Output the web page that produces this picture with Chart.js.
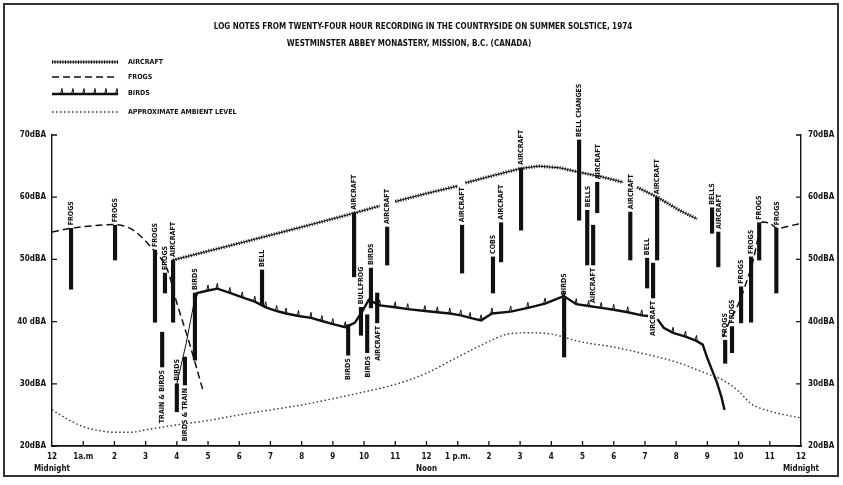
<!DOCTYPE html>
<html>
<head>
<meta charset="utf-8">
<script src="https://cdn.jsdelivr.net/npm/chart.js@4.4.1/dist/chart.umd.min.js"></script>
<style>
  html, body { margin: 0; padding: 0; background: #fff; }
</style>
</head>
<body>
<canvas id="logChart" width="843" height="485"></canvas>
<script>
// x axis = hours after midnight, y axis = dBA
const hourLabels = [['12', 'Midnight'], '1a.m', '2', '3', '4', '5', '6', '7', '8', '9', '10', '11',
  ['12', 'Noon'], '1 p.m.', '2', '3', '4', '5', '6', '7', '8', '9', '10', '11', ['12', 'Midnight']];
const levelTicks = [20, 30, 40, 50, 60, 70];
const leftLevelLabels = ['20dBA', '30dBA', '40 dBA', '50dBA', '60dBA', '70dBA'];
const rightLevelLabels = ['20dBA', '30dBA', '40dBA', '50dBA', '60dBA', '70dBA'];

const aircraftHours = [3.88, 6.0, 8.0, 9.65, 10.5, 10.75, 11.0, 12.0, 13.0, 13.12, 13.25, 14.0, 15.0, 15.6, 16.3, 16.9, 17.6, 18.3, 18.5, 18.75, 19.4, 20.1, 20.67];
const aircraftLevels = [49.9, 52.6, 55.2, 57.4, 58.6, null, 59.3, 60.6, 61.8, null, 62.3, 63.3, 64.6, 65.0, 64.7, 64.0, 63.3, 62.4, null, 61.6, 60.0, 57.9, 56.5];

const frogHours = [0, 0.6, 1.3, 2.0, 2.6, 3.25, 3.7, 4.0, 4.4, 4.85, 12, 21.5, 21.7, 21.95, 22.2, 22.47, 22.63, 22.76, 23.0, 23.24, 23.65, 24];
const frogLevels = [54.4, 55.0, 55.4, 55.6, 54.7, 51.5, 48.3, 43.0, 36.6, 28.7, null, 37.5, 39.9, 42.3, 45.6, 49.9, 53.6, 56.0, 55.8, 55.0, 55.4, 55.8];

const birdHours = [4.0, 4.3, 4.55, 4.65, 5.0, 5.3, 5.7, 6.1, 6.5, 6.85, 7.2, 7.5, 7.9, 8.3, 8.65, 9.0, 9.4, 9.7, 9.9, 10.15,
  10.5, 11.0, 11.4, 11.95, 12.35, 12.75, 13.1, 13.4, 13.75, 14.1, 14.7, 15.25, 15.8, 16.4, 16.8, 17.2, 17.6, 18.0, 18.45, 18.9,
  19.1, 19.25, 19.4, 19.6, 19.9, 20.3, 20.65, 20.85, 21.0, 21.15, 21.3, 21.45, 21.55];
const birdLevels = [30.0, 36.5, 43.0, 44.6, 45.0, 45.3, 44.6, 43.9, 43.2, 42.3, 41.7, 41.3, 40.9, 40.6, 40.1, 39.6, 39.1, 39.8, 41.3, 43.5,
  42.6, 42.3, 42.0, 41.7, 41.5, 41.3, 41.0, 40.6, 40.2, 41.3, 41.6, 42.2, 42.9, 44.1, 42.8, 42.5, 42.2, 41.9, 41.5, 41.0,
  40.9, null, 40.4, 39.0, 38.2, 37.6, 36.9, 36.3, 34.1, 32.2, 30.3, 27.9, 25.8];

const ambientHours = [0, 0.5, 1, 1.5, 2, 2.5, 3, 4, 5, 6, 7, 8, 9, 10, 11, 12, 13, 14, 14.6, 15.3, 16, 16.9, 18, 19, 20, 21, 21.5, 22, 22.4, 23, 24];
const ambientLevels = [25.8, 24.3, 23.1, 22.5, 22.2, 22.2, 22.6, 23.4, 24.1, 25.0, 25.8, 26.6, 27.6, 28.7, 29.9, 31.7, 34.3, 36.8, 38.0, 38.2, 38.0, 36.8, 35.9, 34.8, 33.5, 31.6, 30.6, 28.8, 26.8, 25.6, 24.5];

// logged events: hour, low/high dBA of the bar, note, which end the note sits at
const eventHours = [0.61, 2.02, 3.30, 3.62, 3.88, 3.53, 4.0, 4.26, 4.58, 6.73, 9.49, 9.68, 9.9, 10.1, 10.22, 10.42, 10.74, 13.14, 14.13, 14.39,
  15.03, 16.41, 16.89, 17.15, 17.34, 17.47, 18.53, 19.07, 19.26, 19.39, 21.15, 21.35, 21.57, 21.79, 22.08, 22.4, 22.66, 23.21];
const eventLow = [45.2, 49.9, 39.9, 44.6, 39.9, 32.7, 25.5, 29.8, 33.8, 42.7, 34.6, 47.2, 37.8, 35.0, 42.2, 39.8, 49.1, 47.8, 44.6, 49.6,
  54.7, 34.3, 56.3, 49.1, 49.1, 57.5, 49.9, 45.4, 43.8, 49.9, 54.2, 48.8, 33.3, 35.0, 39.8, 39.9, 49.9, 44.6];
const eventHigh = [55.0, 55.5, 51.5, 47.8, 49.9, 38.3, 30.0, 34.3, 44.6, 48.3, 39.5, 57.5, 42.3, 41.1, 48.6, 44.6, 55.2, 55.5, 50.4, 55.9,
  64.7, 43.8, 69.2, 57.9, 55.5, 62.4, 57.6, 50.2, 49.4, 60.0, 58.3, 54.4, 37.0, 39.2, 45.6, 50.4, 55.9, 55.0];
const eventNames = ['FROGS', 'FROGS', 'FROGS', 'FROGS', 'AIRCRAFT', 'TRAIN & BIRDS', 'BIRDS', 'BIRDS & TRAIN', 'BIRDS', 'BELL',
  'BIRDS', 'AIRCRAFT', 'BULLFROG', 'BIRDS', 'BIRDS', 'AIRCRAFT', 'AIRCRAFT', 'AIRCRAFT', 'COBS', 'AIRCRAFT',
  'AIRCRAFT', 'BIRDS', 'BELL CHANGES', 'BELLS', 'AIRCRAFT', 'AIRCRAFT', 'AIRCRAFT', 'BELL', 'AIRCRAFT', 'AIRCRAFT',
  'BELLS', 'AIRCRAFT', 'FROGS', 'FROGS', 'FROGS', 'FROGS', 'FROGS', 'FROGS'];
const eventSide = ['up', 'up', 'up', 'up', 'up', 'down', 'up', 'down', 'up', 'up',
  'down', 'up', 'up', 'down', 'up', 'down', 'up', 'up', 'up', 'up',
  'up', 'up', 'up', 'up', 'down', 'up', 'up', 'up', 'down', 'up',
  'up', 'up', 'up', 'up', 'up', 'up', 'up', 'up'];

const FONT = "'DejaVu Sans Condensed', 'Liberation Sans Narrow', 'DejaVu Sans', sans-serif";
const INK = '#111';

function pts(xs, ys) {
  return xs.map((x, i) => ({ x: x, y: ys[i] }));
}

function drawSpike(ctx, x, y) {
  ctx.beginPath();
  ctx.moveTo(x - 1.5, y);
  ctx.lineTo(x, y - 5.5);
  ctx.lineTo(x + 0.8, y);
  ctx.stroke();
}

const notesPlugin = {
  id: 'notes',
  afterDatasetsDraw(chart) {
    const ctx = chart.ctx;
    ctx.save();
    // event notes, rotated
    ctx.font = `bold 7px ${FONT}`;
    ctx.fillStyle = INK;
    ctx.textBaseline = 'middle';
    chart.getDatasetMeta(0).data.forEach((bar, i) => {
      const top = Math.min(bar.y, bar.base);
      const bottom = Math.max(bar.y, bar.base);
      ctx.save();
      if (eventSide[i] === 'up') {
        ctx.translate(bar.x + 0.5, top - 3);
        ctx.rotate(-Math.PI / 2);
        ctx.textAlign = 'left';
      } else {
        ctx.translate(bar.x + 0.5, bottom + 3);
        ctx.rotate(-Math.PI / 2);
        ctx.textAlign = 'right';
      }
      ctx.fillText(eventNames[i], 0, 0);
      ctx.restore();
    });

    // bird calls: little spikes on the flat parts of the birds line
    const birds = chart.getDatasetMeta(4).data;
    ctx.strokeStyle = INK;
    ctx.lineWidth = 1;
    for (let i = 1; i < birds.length - 1; i++) {
      const p = birds[i], a = birds[i - 1], b = birds[i + 1];
      if (p.skip || a.skip || b.skip) continue;
      const s = Math.max(Math.abs(p.y - a.y) / (p.x - a.x), Math.abs(b.y - p.y) / (b.x - p.x));
      if (s > 0.8) continue;
      drawSpike(ctx, p.x, p.y);
    }
    ctx.restore();
  },
  afterDraw(chart) {
    const ctx = chart.ctx;
    const area = chart.chartArea;
    const sx = chart.scales.x, sy = chart.scales.y;
    ctx.save();
    ctx.strokeStyle = INK;
    ctx.fillStyle = INK;

    // inward tick marks
    ctx.lineWidth = 1.3;
    ctx.beginPath();
    levelTicks.forEach(v => {
      const y = sy.getPixelForValue(v);
      ctx.moveTo(area.left, y); ctx.lineTo(area.left + 5, y);
      ctx.moveTo(area.right, y); ctx.lineTo(area.right - 5, y);
    });
    for (let h = 1; h < 24; h++) {
      const x = sx.getPixelForValue(h);
      ctx.moveTo(x, area.bottom); ctx.lineTo(x, area.bottom - 5);
    }
    ctx.stroke();

    // titles
    ctx.textAlign = 'center';
    ctx.textBaseline = 'middle';
    ctx.font = `bold 8px ${FONT}`;
    ctx.fillText('LOG NOTES FROM TWENTY-FOUR HOUR RECORDING IN THE COUNTRYSIDE ON SUMMER SOLSTICE, 1974', 423, 27);
    ctx.fillText('WESTMINSTER ABBEY MONASTERY, MISSION, B.C. (CANADA)', 409, 44);

    // legend
    const x0 = 52, x1 = 118;
    ctx.textAlign = 'left';
    ctx.font = `bold 7px ${FONT}`;
    // aircraft
    ctx.lineWidth = 1;
    ctx.beginPath(); ctx.moveTo(x0, 62); ctx.lineTo(x1, 62); ctx.stroke();
    ctx.lineWidth = 3.5;
    ctx.setLineDash([1, 1.6]);
    ctx.beginPath(); ctx.moveTo(x0, 62); ctx.lineTo(x1, 62); ctx.stroke();
    ctx.fillText('AIRCRAFT', 128, 62);
    // frogs
    ctx.lineWidth = 1.5;
    ctx.setLineDash([7, 4]);
    ctx.beginPath(); ctx.moveTo(x0, 77); ctx.lineTo(x1, 77); ctx.stroke();
    ctx.fillText('FROGS', 128, 77);
    // birds
    ctx.setLineDash([]);
    ctx.lineWidth = 2.4;
    ctx.beginPath(); ctx.moveTo(x0, 94); ctx.lineTo(x1, 94); ctx.stroke();
    ctx.lineWidth = 1;
    for (let x = x0 + 10; x < x1; x += 11) drawSpike(ctx, x, 94);
    ctx.fillText('BIRDS', 128, 93);
    // ambient
    ctx.lineWidth = 1.4;
    ctx.strokeStyle = '#333';
    ctx.setLineDash([1.5, 2.5]);
    ctx.beginPath(); ctx.moveTo(x0, 112); ctx.lineTo(x1, 112); ctx.stroke();
    ctx.fillText('APPROXIMATE AMBIENT LEVEL', 128, 112);

    // frame
    ctx.setLineDash([]);
    ctx.strokeStyle = '#333';
    ctx.lineWidth = 2;
    ctx.strokeRect(4, 4, 834, 472);
    ctx.restore();
  }
};

const tickFont = { family: FONT, size: 8, weight: 'bold', lineHeight: 1.5 };

new Chart(document.getElementById('logChart'), {
  data: {
    datasets: [
      {
        type: 'bar',
        label: 'Log notes',
        data: eventHours.map((h, i) => ({ x: h, y: [eventLow[i], eventHigh[i]] })),
        backgroundColor: INK,
        barThickness: 3.5
      },
      {
        type: 'line',
        label: 'Aircraft',
        data: pts(aircraftHours, aircraftLevels),
        borderColor: INK,
        borderWidth: 1,
        pointRadius: 0
      },
      {
        type: 'line',
        label: 'Aircraft hatch',
        data: pts(aircraftHours, aircraftLevels),
        borderColor: '#222',
        borderWidth: 3.5,
        borderDash: [1, 1.6],
        pointRadius: 0
      },
      {
        type: 'line',
        label: 'Frogs',
        data: pts(frogHours, frogLevels),
        borderColor: INK,
        borderWidth: 1.5,
        borderDash: [7, 4],
        cubicInterpolationMode: 'monotone',
        pointRadius: 0
      },
      {
        type: 'line',
        label: 'Birds',
        data: pts(birdHours, birdLevels),
        borderColor: INK,
        borderWidth: 2.4,
        segment: {
          borderWidth: c => (c.p1.parsed.x <= 4.6 ? 1 : 2.4)
        },
        pointRadius: 0
      },
      {
        type: 'line',
        label: 'Approximate ambient level',
        data: pts(ambientHours, ambientLevels),
        borderColor: '#333',
        borderWidth: 1.4,
        borderDash: [1.5, 2.5],
        cubicInterpolationMode: 'monotone',
        pointRadius: 0
      }
    ]
  },
  options: {
    responsive: false,
    animation: false,
    layout: { padding: { top: 135, left: 0, right: 0, bottom: 0 } },
    plugins: {
      legend: { display: false },
      title: { display: false },
      tooltip: { enabled: false }
    },
    scales: {
      x: {
        type: 'linear',
        min: 0,
        max: 24,
        offset: false,
        grid: { display: true, offset: false, drawOnChartArea: false, drawTicks: false },
        border: { display: true, color: INK, width: 1.8 },
        ticks: {
          stepSize: 1,
          autoSkip: false,
          maxRotation: 0,
          padding: 5,
          color: INK,
          font: tickFont,
          callback: v => hourLabels[Math.round(v)]
        },
        afterFit: s => { s.height = 39; }
      },
      y: {
        min: 20,
        max: 70,
        grid: { display: true, drawOnChartArea: false, drawTicks: false },
        border: { display: true, color: INK, width: 1.4 },
        ticks: {
          stepSize: 10,
          padding: 6,
          color: INK,
          font: tickFont,
          callback: v => leftLevelLabels[levelTicks.indexOf(v)]
        },
        afterFit: s => { s.width = 52; }
      },
      y2: {
        position: 'right',
        min: 20,
        max: 70,
        grid: { display: true, drawOnChartArea: false, drawTicks: false },
        border: { display: true, color: INK, width: 1.4 },
        ticks: {
          stepSize: 10,
          padding: 7,
          color: INK,
          font: tickFont,
          callback: v => rightLevelLabels[levelTicks.indexOf(v)]
        },
        afterFit: s => { s.width = 42; }
      }
    }
  },
  plugins: [notesPlugin]
});
</script>
</body>
</html>
